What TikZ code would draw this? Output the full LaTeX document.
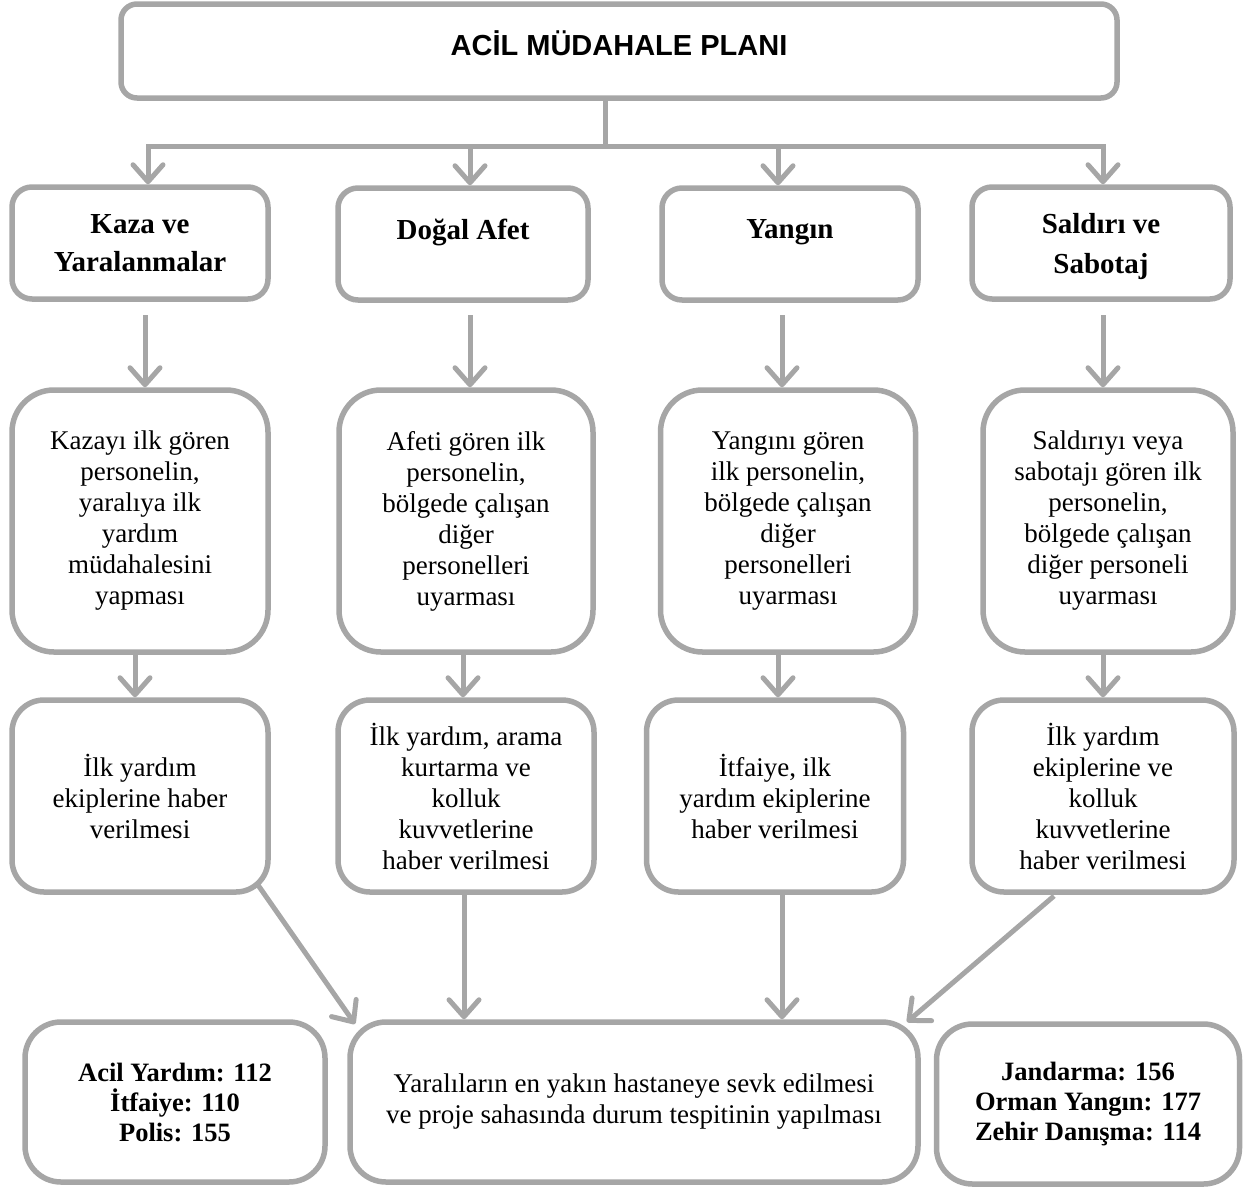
\documentclass[tikz,border=0pt]{standalone}
\usepackage{fontspec}
\setmainfont{Liberation Serif}
\newfontfamily\titlefont{Liberation Sans}
\usetikzlibrary{arrows.meta}
\definecolor{lineg}{HTML}{A6A6A6}
\tikzset{
  box/.style={draw=lineg, line width=5.5pt, fill=white, align=center, inner sep=0pt,
    font=\fontsize{27}{31}\selectfont},
  titlebox/.style={box, rounded corners=16pt, minimum width=996pt, minimum height=94pt,
    font=\titlefont\bfseries\fontsize{29}{34}\selectfont},
  headbox/.style={box, rounded corners=20pt, minimum height=112pt,
    font=\bfseries\fontsize{29}{38}\selectfont},
  midbox/.style={box, rounded corners=42pt, minimum height=262pt},
  lowbox/.style={box, rounded corners=32pt, minimum height=192pt},
  endbox/.style={box, rounded corners=36pt, minimum height=160pt},
  plainline/.style={draw=lineg, line width=5pt},
  conn/.style={draw=lineg, line width=5pt, -{Straight Barb[length=17pt,width=30pt,round]}},
}
\newcommand{\upby}[2]{\raisebox{#1}[\height][\depth]{#2}}
\begin{document}
\begin{tikzpicture}[x=1pt,y=-1pt]
\useasboundingbox (0,0) rectangle (1247,1189);

% title
\node[titlebox] (title) at (619,51) {\upby{8pt}{ACİL MÜDAHALE PLANI}};

% headers
\node[headbox, minimum width=256pt] (h1) at (140,243) {Kaza ve\\Yaralanmalar};
\node[headbox, minimum width=250pt] (h2) at (463,244) {\upby{12pt}{Doğal Afet}};
\node[headbox, minimum width=256pt] (h3) at (790,244) {\upby{12pt}{Yangın}};
\node[headbox, minimum width=258pt, font=\bfseries\fontsize{29}{40}\selectfont] (h4) at (1101,243) {\upby{-4pt}{Saldırı ve}\\\upby{-4pt}{Sabotaj}};

% row 2
\node[midbox, minimum width=256pt] (r1) at (140,521) {Kazayı ilk gören\\personelin,\\yaralıya ilk\\yardım\\müdahalesini\\yapması};
\node[midbox, minimum width=254pt] (r2) at (466,521) {Afeti gören ilk\\personelin,\\bölgede çalışan\\diğer\\personelleri\\uyarması};
\node[midbox, minimum width=255pt] (r3) at (788,521) {Yangını gören\\ilk personelin,\\bölgede çalışan\\diğer\\personelleri\\uyarması};
\node[midbox, minimum width=250pt] (r4) at (1108,521) {Saldırıyı veya\\sabotajı gören ilk\\personelin,\\bölgede çalışan\\diğer personeli\\uyarması};

% row 3
\node[lowbox, minimum width=256pt] (s1) at (140,796) {İlk yardım\\ekiplerine haber\\verilmesi};
\node[lowbox, minimum width=256pt] (s2) at (466,796) {İlk yardım, arama\\kurtarma ve\\kolluk\\kuvvetlerine\\haber verilmesi};
\node[lowbox, minimum width=257pt] (s3) at (775,796) {İtfaiye, ilk\\yardım ekiplerine\\haber verilmesi};
\node[lowbox, minimum width=262pt] (s4) at (1103,796) {İlk yardım\\ekiplerine ve\\kolluk\\kuvvetlerine\\haber verilmesi};

% bottom
\node[endbox, minimum width=300pt, font=\bfseries\fontsize{26.5}{30}\selectfont] (b1) at (175,1102) {Acil Yardım: 112\\İtfaiye: 110\\Polis: 155};
\node[endbox, minimum width=568pt] (b2) at (634,1102) {Yaralıların en yakın hastaneye sevk edilmesi\\ve proje sahasında durum tespitinin yapılması};
\node[endbox, minimum width=303pt, font=\bfseries\fontsize{26.5}{30}\selectfont] (b3) at (1088,1104) {Jandarma: 156\\Orman Yangın: 177\\Zehir Danışma: 114};

% title to headers
\coordinate (tj) at (605,146);
\coordinate (a1) at (148,146);
\coordinate (a2) at (470,146);
\coordinate (a3) at (778,146);
\coordinate (a4) at (1103,146);
\draw[plainline] (title.south -| tj) -- (tj);
\draw[plainline, line cap=rect] (a1) -- (a4);
\draw[conn] (a1) -- (a1 |- h1.north);
\draw[conn] (a2) -- (a2 |- h2.north);
\draw[conn] (a3) -- (a3 |- h3.north);
\draw[conn] (a4) -- (a4 |- h4.north);

% headers to row 2
\coordinate (u1) at (145,315);
\coordinate (u2) at (470,315);
\coordinate (u3) at (782,315);
\coordinate (u4) at (1103,315);
\draw[conn] (u1) -- (u1 |- r1.north);
\draw[conn] (u2) -- (u2 |- r2.north);
\draw[conn] (u3) -- (u3 |- r3.north);
\draw[conn] (u4) -- (u4 |- r4.north);

% row 2 to row 3
\coordinate (v1) at (135,652);
\coordinate (v2) at (463,652);
\coordinate (v3) at (778,652);
\coordinate (v4) at (1103,652);
\draw[conn] (r1.south -| v1) -- (v1 |- s1.north);
\draw[conn] (r2.south -| v2) -- (v2 |- s2.north);
\draw[conn] (r3.south -| v3) -- (v3 |- s3.north);
\draw[conn] (r4.south -| v4) -- (v4 |- s4.north);

% row 3 to bottom
\coordinate (d1) at (258,885);
\coordinate (e1) at (355,1024);
\coordinate (d4) at (1054,896);
\coordinate (e4) at (907,1022);
\coordinate (w2) at (464,0);
\coordinate (w3) at (782,0);
\draw[conn] (d1) -- (e1);
\draw[conn] (s2.south -| w2) -- (w2 |- b2.north);
\draw[conn] (s3.south -| w3) -- (w3 |- b2.north);
\draw[conn] (d4) -- (e4);
\end{tikzpicture}
\end{document}
